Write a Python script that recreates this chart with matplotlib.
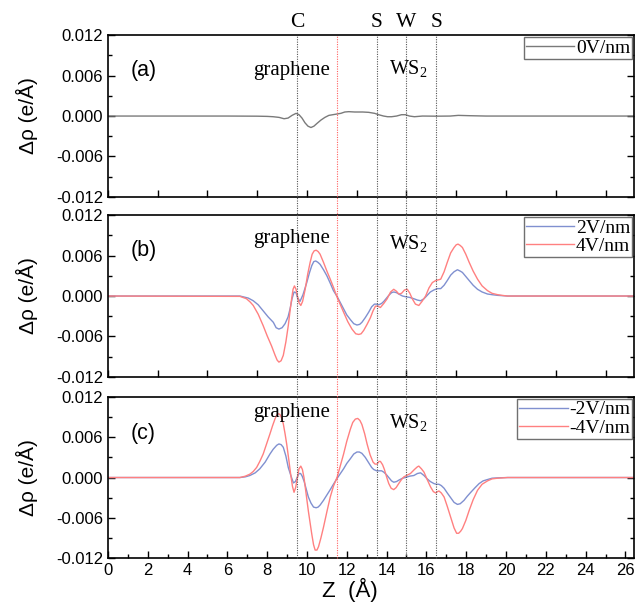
import matplotlib.pyplot as plt
from matplotlib.lines import Line2D
from matplotlib.transforms import blended_transform_factory
from matplotlib.ticker import MultipleLocator

# (a) 0 V/nm
z_a = [0, 6.0, 7.5, 8.0, 8.3, 8.6, 8.85, 9.05, 9.25, 9.45, 9.6, 9.75, 9.9, 10.05, 10.2,
       10.35, 10.5, 10.7, 10.9, 11.1, 11.3, 11.5, 11.7, 11.9, 12.1, 12.4, 12.8, 13.1,
       13.4, 13.6, 13.85, 14.05, 14.25, 14.5, 14.75, 14.95, 15.15, 15.4, 15.8, 16.5,
       17.2, 17.6, 18.2, 19.0, 26.5]
rho_0 = [0, 0, -0.00002, -0.00005, -0.0001, -0.0002, -0.0004, -0.0003, 0.0001, 0.0004,
         0.0002, -0.0003, -0.0010, -0.0015, -0.0017, -0.0015, -0.0011, -0.0006, -0.0002,
         0.0001, 0.0002, 0.0003, 0.0004, 0.0006, 0.00065, 0.0006, 0.0006, 0.00055, 0.0004,
         0.0002, 0.0, -0.0001, -0.0001, 0.0, 0.0002, 0.0002, 0.0, -0.0001, 0.0, -0.00002,
         0.0, 0.0001, 0.00005, 0.0, 0.0]

# (b) +2 V/nm
z_b2 = [0, 6.63, 7.05, 7.3, 7.55, 7.8, 8.05, 8.31, 8.45, 8.59, 8.75, 8.9, 9.05, 9.15,
        9.25, 9.35, 9.45, 9.52, 9.65, 9.8, 9.99, 10.12, 10.24, 10.34, 10.44, 10.55,
        10.66, 10.83, 11.0, 11.17, 11.33, 11.52, 11.68, 11.84, 12.0, 12.18, 12.35, 12.51,
        12.65, 12.76, 12.93, 13.1, 13.25, 13.39, 13.5, 13.61, 13.75, 13.86, 14.0, 14.11,
        14.25, 14.36, 14.5, 14.61, 14.8, 14.95, 15.15, 15.37, 15.55, 15.71, 15.88, 16.04,
        16.2, 16.38, 16.55, 16.72, 16.89, 17.05, 17.22, 17.39, 17.56, 17.7, 17.81, 17.98,
        18.15, 18.35, 18.57, 18.8, 19.07, 19.3, 19.58, 20.08, 26.5]
rho_p2 = [0, 0, -0.0003, -0.0007, -0.0013, -0.0022, -0.0031, -0.0039, -0.0047, -0.0049,
          -0.0047, -0.0041, -0.0031, -0.0019, -0.0004, 0.0006, 0.0005, -0.0002, -0.0008,
          0.0002, 0.0020, 0.0034, 0.0045, 0.0051, 0.0052, 0.0050, 0.0047, 0.0039, 0.0030,
          0.0019, 0.0008, -0.0001, -0.0010, -0.0019, -0.0028, -0.0035, -0.0041, -0.0043,
          -0.0042, -0.0039, -0.0032, -0.0024, -0.0016, -0.0012, -0.0012, -0.0013, -0.0011,
          -0.0008, -0.0003, 0.0001, 0.0005, 0.0006, 0.0005, 0.0003, 0.0000, -0.0001,
          -0.0002, -0.0004, -0.0006, -0.0007, -0.0004, 0.0001, 0.0006, 0.0009, 0.0011,
          0.0011, 0.0016, 0.0023, 0.0031, 0.0036, 0.0039, 0.0037, 0.0035, 0.0029, 0.0023,
          0.0016, 0.0010, 0.0006, 0.0003, 0.0002, 0.0001, 0, 0]

# (b) +4 V/nm
z_b4 = [0, 6.63, 6.96, 7.15, 7.3, 7.55, 7.8, 8.0, 8.22, 8.4, 8.5, 8.59, 8.7, 8.81, 8.94,
        9.06, 9.15, 9.23, 9.3, 9.37, 9.45, 9.52, 9.6, 9.69, 9.78, 9.91, 10.04, 10.16,
        10.26, 10.36, 10.46, 10.56, 10.66, 10.83, 11.0, 11.17, 11.33, 11.52, 11.68, 11.84,
        12.05, 12.26, 12.45, 12.6, 12.72, 12.85, 13.02, 13.19, 13.32, 13.44, 13.55, 13.69,
        13.86, 14.03, 14.2, 14.36, 14.5, 14.61, 14.75, 14.9, 15.04, 15.17, 15.29, 15.45,
        15.62, 15.78, 15.96, 16.13, 16.3, 16.47, 16.6, 16.72, 16.89, 17.05, 17.22, 17.39,
        17.5, 17.59, 17.7, 17.81, 17.98, 18.15, 18.35, 18.57, 18.8, 19.07, 19.3, 19.58,
        19.8, 20.08, 26.5]
rho_p4 = [0, -0.00005, -0.0004, -0.0009, -0.0014, -0.0027, -0.0044, -0.0059, -0.0074,
          -0.0088, -0.0095, -0.0098, -0.0096, -0.0088, -0.0068, -0.0044, -0.0022, -0.0004,
          0.0010, 0.0015, 0.0010, 0.0000, -0.0010, -0.0014, -0.0008, 0.0010, 0.0033,
          0.0050, 0.0062, 0.0067, 0.0068, 0.0066, 0.0062, 0.0050, 0.0037, 0.0025, 0.0013,
          -0.0002, -0.0013, -0.0024, -0.0038, -0.0049, -0.0056, -0.0057, -0.0056, -0.0051,
          -0.0042, -0.0032, -0.0022, -0.0015, -0.0015, -0.0017, -0.0011, -0.0004, 0.0006,
          0.0010, 0.0007, 0.0003, 0.0004, 0.0009, 0.0010, 0.0004, -0.0004, -0.0012,
          -0.0014, -0.0008, 0.0000, 0.0012, 0.0020, 0.0023, 0.0024, 0.0025, 0.0036,
          0.0050, 0.0064, 0.0072, 0.0076, 0.0077, 0.0075, 0.0072, 0.0062, 0.0050, 0.0037,
          0.0025, 0.0015, 0.0008, 0.0004, 0.0002, 0.0001, 0, 0]

# (c) -2 V/nm
z_c2 = [0, 6.63, 6.9, 7.13, 7.4, 7.63, 7.9, 8.14, 8.3, 8.48, 8.59, 8.7, 8.81, 8.94, 9.06,
        9.2, 9.32, 9.42, 9.52, 9.6, 9.68, 9.76, 9.86, 9.96, 10.07, 10.2, 10.33, 10.46,
        10.56, 10.66, 10.83, 11.0, 11.17, 11.33, 11.52, 11.68, 11.84, 12.0, 12.18, 12.35,
        12.51, 12.63, 12.76, 12.93, 13.1, 13.25, 13.35, 13.5, 13.61, 13.75, 13.86, 14.0,
        14.11, 14.25, 14.36, 14.5, 14.61, 14.8, 14.95, 15.15, 15.37, 15.55, 15.71, 15.88,
        16.04, 16.2, 16.38, 16.5, 16.63, 16.75, 16.89, 17.05, 17.22, 17.39, 17.56, 17.7,
        17.89, 18.05, 18.23, 18.45, 18.65, 18.85, 19.07, 19.3, 19.58, 20.08, 26.5]
rho_m2 = [0, 0, 0.0001, 0.0003, 0.0007, 0.0013, 0.0023, 0.0035, 0.0042, 0.0048, 0.0050,
          0.0049, 0.0045, 0.0032, 0.0015, 0.0002, -0.0008, -0.0006, 0.0001, 0.0006, 0.0006,
          0.0002, -0.0006, -0.0017, -0.0029, -0.0038, -0.0044, -0.0045, -0.0044, -0.0041,
          -0.0034, -0.0026, -0.0018, -0.0010, -0.0001, 0.0006, 0.0013, 0.0021, 0.0028,
          0.0035, 0.0038, 0.0038, 0.0036, 0.0030, 0.0022, 0.0015, 0.0012, 0.0010, 0.0010,
          0.0010, 0.0008, 0.0004, 0.0000, -0.0005, -0.0007, -0.0006, -0.0004, -0.0001,
          0.0000, 0.0002, 0.0003, 0.0006, 0.0007, 0.0003, -0.0002, -0.0006, -0.0009,
          -0.0010, -0.0010, -0.0012, -0.0016, -0.0023, -0.0030, -0.0037, -0.0040, -0.0039,
          -0.0034, -0.0028, -0.0022, -0.0015, -0.0009, -0.0005, -0.0003, -0.0001, -0.00005,
          0, 0]

# (c) -4 V/nm
z_c4 = [0, 6.63, 6.9, 7.13, 7.3, 7.47, 7.63, 7.8, 7.97, 8.14, 8.27, 8.39, 8.48, 8.56,
        8.64, 8.72, 8.81, 8.9, 8.98, 9.08, 9.18, 9.27, 9.35, 9.43, 9.52, 9.6, 9.69, 9.77,
        9.85, 9.96, 10.07, 10.16, 10.24, 10.33, 10.41, 10.5, 10.58, 10.7, 10.83, 11.0,
        11.17, 11.33, 11.52, 11.68, 11.84, 12.0, 12.18, 12.3, 12.43, 12.55, 12.66, 12.76,
        12.9, 13.02, 13.17, 13.32, 13.42, 13.52, 13.62, 13.69, 13.8, 13.89, 14.0, 14.11,
        14.23, 14.36, 14.48, 14.61, 14.75, 14.87, 15.0, 15.2, 15.4, 15.55, 15.62, 15.75,
        15.88, 16.04, 16.21, 16.35, 16.47, 16.56, 16.63, 16.75, 16.89, 17.05, 17.22,
        17.39, 17.52, 17.62, 17.72, 17.81, 17.98, 18.15, 18.35, 18.57, 18.8, 19.07, 19.3,
        19.58, 20.08, 26.5]
rho_m4 = [0, 0, 0.0002, 0.0005, 0.0009, 0.0015, 0.0024, 0.0035, 0.0050, 0.0065, 0.0077,
          0.0087, 0.0093, 0.0095, 0.0094, 0.0089, 0.0080, 0.0065, 0.0050, 0.0028, 0.0005,
          -0.0013, -0.0022, -0.0015, 0.0000, 0.0013, 0.0017, 0.0012, 0.0000, -0.0025,
          -0.0050, -0.0068, -0.0084, -0.0100, -0.0108, -0.0108, -0.0103, -0.0090, -0.0074,
          -0.0051, -0.0029, -0.0013, 0.0001, 0.0018, 0.0035, 0.0054, 0.0072, 0.0082,
          0.0087, 0.0088, 0.0085, 0.0079, 0.0065, 0.0050, 0.0034, 0.0023, 0.0020, 0.0020,
          0.0024, 0.0024, 0.0019, 0.0012, 0.0001, -0.0009, -0.0016, -0.0018, -0.0015,
          -0.0009, -0.0003, 0.0001, 0.0003, 0.0006, 0.0012, 0.0016, 0.0017, 0.0013, 0.0008,
          -0.0003, -0.0014, -0.0021, -0.0023, -0.0021, -0.0020, -0.0023, -0.0029, -0.0043,
          -0.0059, -0.0075, -0.0083, -0.0083, -0.0080, -0.0076, -0.0064, -0.0049, -0.0033,
          -0.0019, -0.0010, -0.0005, -0.0002, -0.0001, 0, 0]

# atomic planes
atom_z = [9.5, 13.5, 15.0, 16.5]
atom_names = ["C", "S", "W", "S"]
middle_z = 11.5

GRAY = "#7a7a7a"
BLUE = "#8090d0"
RED = "#ff8080"
SERIF = ["Liberation Serif", "DejaVu Serif"]
SANS = ["Liberation Sans", "DejaVu Sans"]

plt.rcParams["font.family"] = SANS
plt.rcParams["mathtext.fontset"] = "custom"
plt.rcParams["mathtext.rm"] = "Liberation Serif"

fig = plt.figure(figsize=(6.35, 6.06), dpi=100)
W = 0.829
ax_a = fig.add_axes([0.170, 0.675, W, 0.267])
ax_b = fig.add_axes([0.170, 0.378, W, 0.267])
ax_c = fig.add_axes([0.170, 0.079, W, 0.266])

ax_a.plot(z_a, rho_0, color=GRAY, lw=1.0, label="0V/nm")
ax_b.plot(z_b2, rho_p2, color=BLUE, lw=1.0, label="2V/nm")
ax_b.plot(z_b4, rho_p4, color=RED, lw=1.0, label="4V/nm")
ax_c.plot(z_c2, rho_m2, color=BLUE, lw=1.0, label="-2V/nm")
ax_c.plot(z_c4, rho_m4, color=RED, lw=1.0, label="-4V/nm")

panel_text = [(ax_a, "(a)", 0.0068, 0.0068, 0.0070),
              (ax_b, "(b)", 0.0068, 0.0086, 0.0077),
              (ax_c, "(c)", 0.0066, 0.0097, 0.0081)]
for ax, lab, y_lab, y_gr, y_ws in panel_text:
    ax.set_xlim(0, 26.45)
    ax.set_ylim(-0.012, 0.012)
    ax.set_yticks([-0.012, -0.006, 0.0, 0.006, 0.012])
    ax.set_yticklabels(["-0.012", "-0.006", "0.000", "0.006", "0.012"])
    ax.yaxis.set_minor_locator(MultipleLocator(0.003))
    ax.tick_params(which="both", direction="in", right=True, labelsize=12)
    ax.tick_params(which="major", length=5, width=1)
    ax.tick_params(which="minor", length=3, width=1)
    ax.set_ylabel("Δρ (e/Å)", fontsize=15)
    ax.yaxis.set_label_coords(-0.154, 0.5)
    ax.yaxis.label.set_va("center")
    for s in ax.spines.values():
        s.set_linewidth(1.2)
    ax.text(1.15, y_lab, lab, fontsize=15.5, va="center", ha="left")
    ax.text(9.25, y_gr, "graphene", fontsize=15, family=SERIF, va="center", ha="center")
    ax.text(14.1, y_ws, r"WS$_2$", fontsize=14.5, family=SERIF, va="center", ha="left")
    leg = ax.legend(loc="upper right", prop={"family": SERIF, "size": 14},
                    handlelength=2.5, handletextpad=0.1, borderpad=0.1,
                    labelspacing=0.05, borderaxespad=0.1, fancybox=False, framealpha=1)
    leg.get_frame().set_edgecolor("#707070")
    leg.get_frame().set_linewidth(1.0)

for ax in (ax_a, ax_b):
    ax.xaxis.set_major_locator(MultipleLocator(2.5))
    ax.tick_params(axis="x", labelbottom=False)
ax_c.xaxis.set_major_locator(MultipleLocator(2))
ax_c.xaxis.set_minor_locator(MultipleLocator(1))
ax_c.set_xlabel("Z  (Å)", fontsize=16)
ax_c.xaxis.set_label_coords(0.46, -0.2)
ax_c.xaxis.label.set_va("center")

# dotted lines through all panels
trans = blended_transform_factory(ax_c.transData, fig.transFigure)
y_top = 0.675 + 0.267
y_bot = 0.079
for z, name in zip(atom_z, atom_names):
    fig.add_artist(Line2D([z, z], [y_bot, y_top], transform=trans, color="#555555",
                          lw=0.8, ls=(0, (1, 1.2))))
    fig.text(z, 0.963, name, transform=trans, ha="center", va="center",
             fontsize=15.5, family=SERIF)
fig.add_artist(Line2D([middle_z, middle_z], [y_bot, y_top], transform=trans,
                      color="#ff6060", lw=0.8, ls=(0, (1, 1.2))))

fig.savefig("out.png", dpi=100)
